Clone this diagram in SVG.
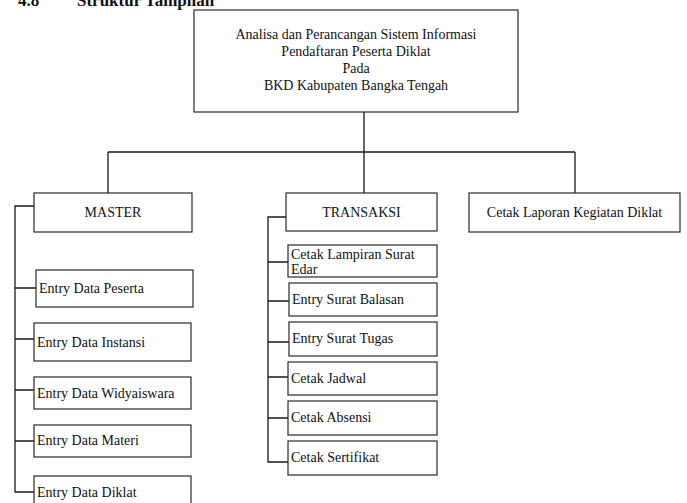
<svg xmlns="http://www.w3.org/2000/svg" width="687" height="503" viewBox="0 0 687 503">
<style>
.box{fill:#fff;stroke:#2a2a2a;stroke-width:1.2}
.con{fill:none;stroke:#1a1a1a;stroke-width:1.3}
text{font-family:"Liberation Serif","Times New Roman",serif;font-size:14px;fill:#111}
.c{text-anchor:middle}
.t{font-weight:bold;font-size:17px}
</style>
<rect width="687" height="503" fill="#fff"/>
<g id="title">
<text class="t" x="18" y="6">4.8</text>
<text class="t" x="77" y="6">Struktur Tampilan</text>
</g>
<g id="connectors">
<path class="con" d="M364,112V193M108,152H575M108,152V193M575,152V193"/>
<path class="con" d="M34,206H15V492H34M15,288H36M15,339H34M15,390H34M15,441H34"/>
<path class="con" d="M286,217H268V462H288M268,262H288M268,301H289M268,342H289M268,377H288M268,418H288"/>
</g>
<g id="root">
<rect class="box" x="194" y="10" width="324" height="102"/>
<text class="c" x="356" y="39">Analisa dan Perancangan Sistem Informasi</text>
<text class="c" x="356" y="56">Pendaftaran Peserta Diklat</text>
<text class="c" x="356" y="73">Pada</text>
<text class="c" x="356" y="90">BKD Kabupaten Bangka Tengah</text>
</g>
<g id="master">
<rect class="box" x="34" y="193" width="158" height="39"/>
<text class="c" x="113" y="217">MASTER</text>
</g>
<g id="transaksi">
<rect class="box" x="286" y="193" width="151" height="38"/>
<text class="c" x="361.5" y="217">TRANSAKSI</text>
</g>
<g id="laporan">
<rect class="box" x="469" y="193" width="211" height="39"/>
<text class="c" x="574.5" y="217">Cetak Laporan Kegiatan Diklat</text>
</g>
<g id="peserta">
<rect class="box" x="36" y="270" width="157" height="37"/>
<text x="39" y="293">Entry Data Peserta</text>
</g>
<g id="instansi">
<rect class="box" x="34" y="323" width="157" height="38"/>
<text x="37" y="347">Entry Data Instansi</text>
</g>
<g id="widyaiswara">
<rect class="box" x="34" y="377" width="157" height="32"/>
<text x="37" y="398">Entry Data Widyaiswara</text>
</g>
<g id="materi">
<rect class="box" x="34" y="425" width="157" height="32"/>
<text x="37" y="445">Entry Data Materi</text>
</g>
<g id="diklat">
<rect class="box" x="34" y="476" width="157" height="40"/>
<text x="37" y="497">Entry Data Diklat</text>
</g>
<g id="lampiran">
<rect class="box" x="288" y="245" width="149" height="32"/>
<text x="291" y="259">Cetak Lampiran Surat</text>
<text x="291" y="274">Edar</text>
</g>
<g id="balasan">
<rect class="box" x="289" y="283" width="148" height="33"/>
<text x="292" y="304">Entry Surat Balasan</text>
</g>
<g id="tugas">
<rect class="box" x="289" y="322" width="148" height="34"/>
<text x="292" y="343">Entry Surat Tugas</text>
</g>
<g id="jadwal">
<rect class="box" x="288" y="362" width="149" height="33"/>
<text x="291" y="383">Cetak Jadwal</text>
</g>
<g id="absensi">
<rect class="box" x="288" y="401" width="149" height="34"/>
<text x="291" y="422">Cetak Absensi</text>
</g>
<g id="sertifikat">
<rect class="box" x="288" y="441" width="149" height="34"/>
<text x="291" y="462">Cetak Sertifikat</text>
</g>
</svg>
